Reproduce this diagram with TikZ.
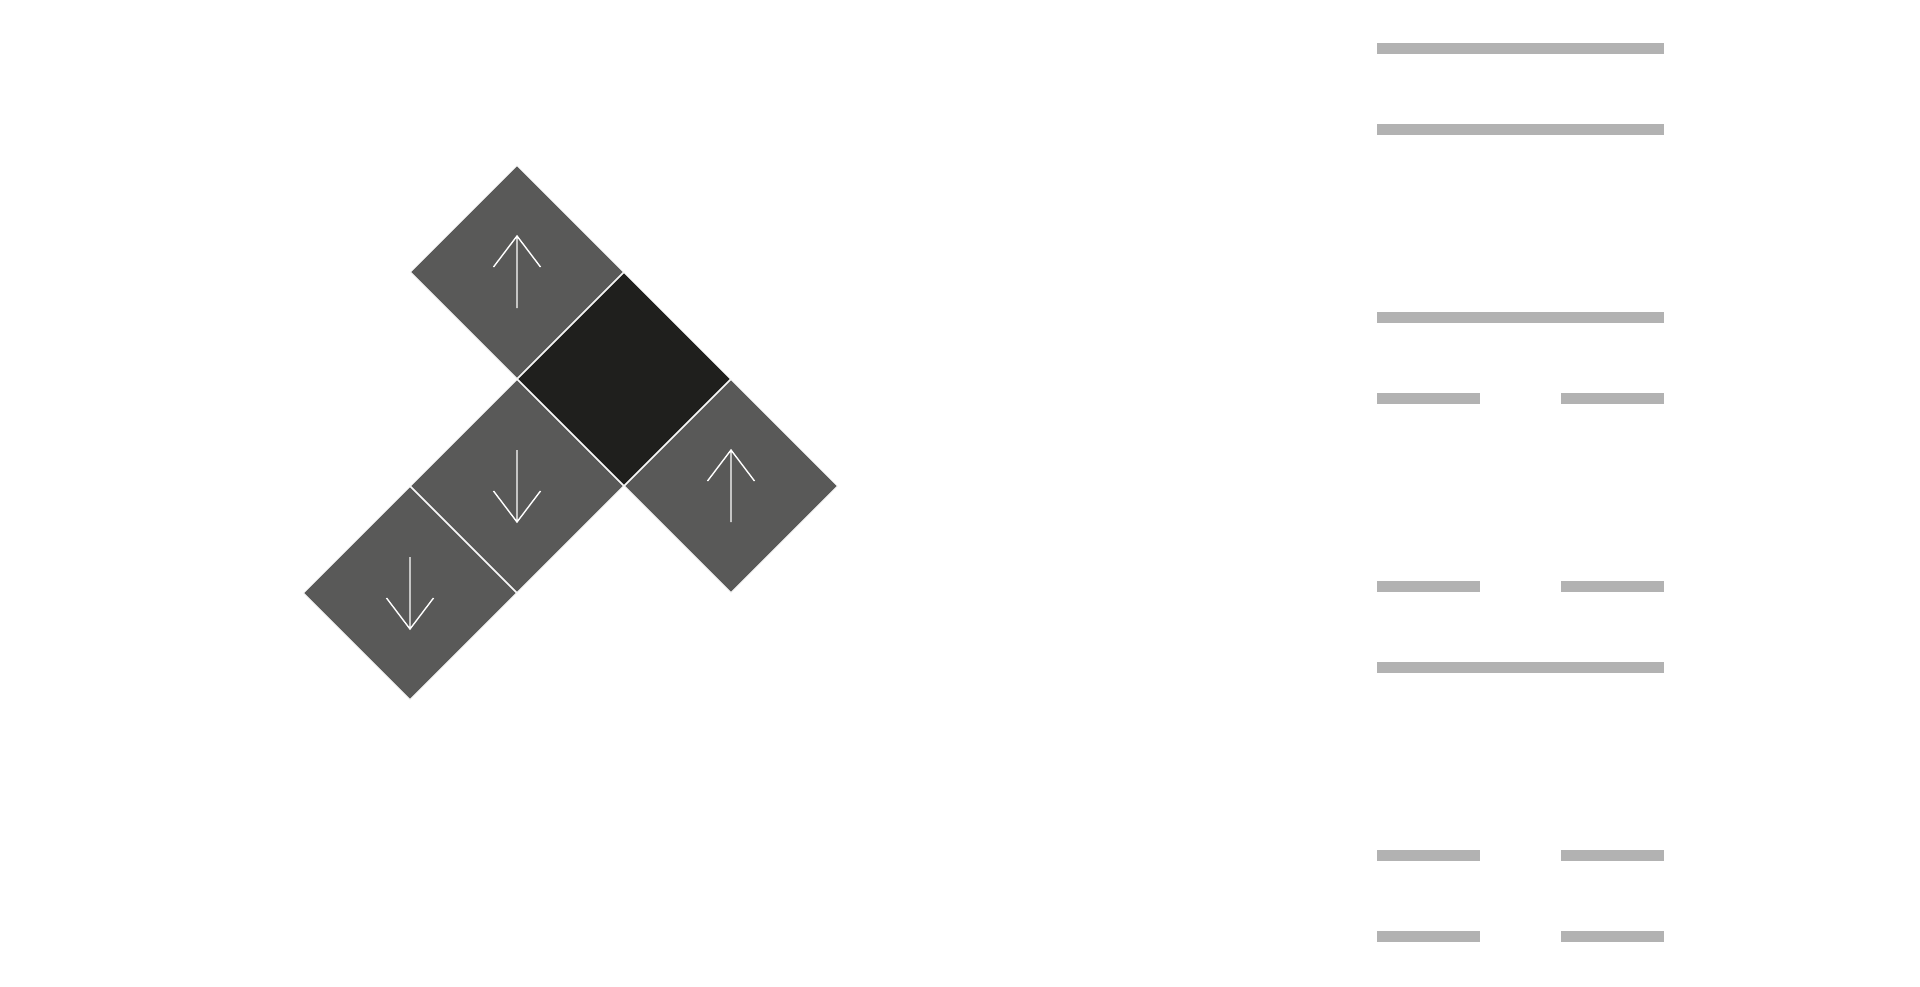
\documentclass[tikz,border=0pt]{standalone}
\usetikzlibrary{shapes.geometric}
\definecolor{tilegray}{HTML}{595958}
\definecolor{tileblack}{HTML}{1F1F1D}
\definecolor{bargray}{HTML}{B2B2B2}
\tikzset{
  tile/.style={diamond, aspect=1, inner sep=0pt, outer sep=0pt,
    minimum width=213pt, minimum height=213pt, draw=white, line width=0.8pt},
  graytile/.style={tile, fill=tilegray},
  blacktile/.style={tile, fill=tileblack},
  arr/.style={draw=white, line width=1.4pt},
  bar/.style={fill=bargray},
  uparr/.pic={\draw[arr] (0,36) -- (0,-36) (-23.5,-5) -- (0,-36) -- (23.5,-5);},
  downarr/.pic={\draw[arr] (0,-36) -- (0,36) (-23.5,5) -- (0,36) -- (23.5,5);}
}
\begin{document}
\begin{tikzpicture}[x=1pt,y=-1pt]
\useasboundingbox (0,0) rectangle (1920,986);
% tiles
\node[blacktile] (B) at (624,379) {};
\node[graytile] (A) at (517,272) {};
\node[graytile] (C) at (517,486) {};
\node[graytile] (D) at (410,593) {};
\node[graytile] (E) at (731,486) {};
% arrows
\pic at (A.center) {uparr};
\pic at (C.center) {downarr};
\pic at (D.center) {downarr};
\pic at (E.center) {uparr};
% bars
\def\bh{5.7}
\foreach \y in {48.5,129.7,317.5,667.7}{
  \fill[bar] (1376.7,\y-\bh) rectangle (1664.3,\y+\bh);
}
\foreach \y in {398.7,586.7,855.5,936.3}{
  \fill[bar] (1376.7,\y-\bh) rectangle (1480,\y+\bh);
  \fill[bar] (1561,\y-\bh) rectangle (1664.3,\y+\bh);
}
\end{tikzpicture}
\end{document}
